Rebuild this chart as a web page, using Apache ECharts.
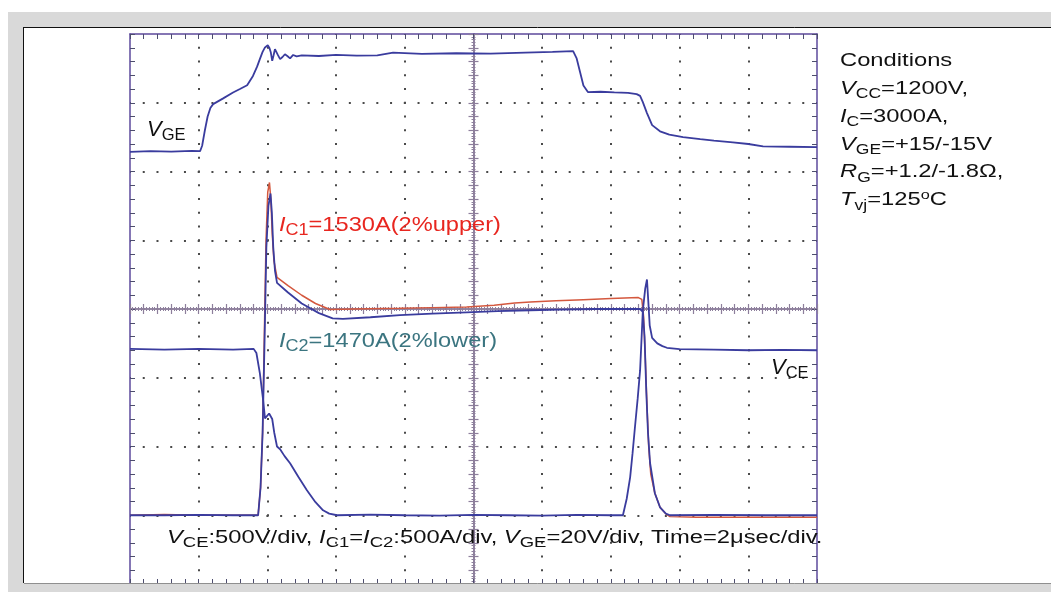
<!DOCTYPE html>
<html><head><meta charset="utf-8">
<script src="https://cdn.jsdelivr.net/npm/echarts@6/dist/echarts.min.js"></script>
<style>html,body{margin:0;padding:0;background:#fff}#c{width:1051px;height:592px}</style>
</head><body><div id="c"></div>
<script>
// ---- data (time in µs) ----
const timeRange = [0, 20];      // 2 µs/div, 10 div
const ampRange = [-500, 3500];  // VCE [V] and IC [A], 500 /div
const vgeRange = [-140, 20];    // VGE [V], 20 V/div

const vgeTrace = [[0,-14.3],[0.6,-14.1],[1.2,-14.2],[1.8,-14.0],[2.04,-14.1],[2.1,-12.5],[2.18,-8.0],[2.26,-4.0],[2.34,-1.5],[2.42,-0.4],[2.7,1.2],[3.0,3.0],[3.2,4.0],[3.41,5.1],[3.58,7.8],[3.7,10.5],[3.78,12.7],[3.86,14.8],[3.93,16.1],[4.01,16.7],[4.06,15.9],[4.1,14.6],[4.14,12.2],[4.18,13.8],[4.22,15.6],[4.3,14.0],[4.37,12.7],[4.44,13.3],[4.51,14.1],[4.58,13.6],[4.66,12.9],[4.75,13.9],[4.85,13.5],[5.0,13.8],[5.5,13.6],[6.0,13.9],[6.6,13.7],[7.2,13.8],[7.66,14.6],[8.5,14.2],[9.5,14.4],[10.5,14.3],[11.5,14.6],[12.3,14.8],[12.9,15.0],[13.0,13.0],[13.1,9.0],[13.2,5.0],[13.33,3.1],[13.7,3.2],[14.1,3.0],[14.5,2.9],[14.75,2.5],[14.85,2.0],[14.93,0.2],[15.05,-3.0],[15.2,-6.5],[15.43,-8.3],[15.7,-9.3],[16.1,-10.0],[16.6,-10.6],[17.0,-11.0],[17.55,-11.5],[18.0,-12.0],[18.43,-12.7],[19.2,-12.8],[20,-12.9]];

const vceTrace = [[0,1210],[1,1205],[2,1210],[3,1205],[3.6,1210],[3.68,1180],[3.78,1033],[3.87,850],[3.93,705],[3.98,700],[4.05,740],[4.09,750],[4.14,700],[4.2,600],[4.28,500],[4.37,480],[4.5,430],[4.66,378],[4.9,280],[5.15,182],[5.4,95],[5.62,36],[5.8,12],[6.03,0],[7,5],[8,0],[9,-3],[10,2],[11,0],[12,-2],[13,3],[14.0,0],[14.35,0],[14.46,120],[14.56,276],[14.63,450],[14.7,640],[14.78,850],[14.85,1055],[14.93,1490],[15.0,1650],[15.05,1715],[15.09,1550],[15.13,1380],[15.2,1290],[15.35,1250],[15.5,1230],[15.63,1218],[16.0,1208],[17,1205],[18,1200],[19,1202],[20,1200]];

const ic1Trace = [[0,0],[1,5],[2,0],[3,0],[3.73,0],[3.8,200],[3.86,600],[3.91,1300],[3.96,2000],[4.01,2350],[4.06,2420],[4.1,2300],[4.14,2050],[4.19,1850],[4.28,1730],[4.6,1670],[5.0,1600],[5.4,1540],[5.82,1496],[6.5,1500],[7.86,1505],[8.8,1510],[9.8,1515],[10.6,1528],[11.2,1544],[11.65,1551],[12.4,1560],[13.2,1568],[14.0,1576],[14.8,1583],[14.9,1570],[14.95,1450],[15.0,1150],[15.05,800],[15.1,500],[15.16,300],[15.28,160],[15.43,58],[15.6,10],[15.72,-10],[16.5,-15],[18,-15],[20,-14]];

const ic2Trace = [[0,0],[1,0],[2,3],[3,0],[3.73,0],[3.8,200],[3.86,600],[3.92,1300],[3.97,1950],[4.03,2250],[4.09,2340],[4.13,2200],[4.17,1950],[4.22,1780],[4.28,1690],[4.6,1620],[5.0,1540],[5.5,1470],[5.9,1432],[6.2,1428],[7.0,1440],[7.86,1455],[8.8,1466],[9.8,1476],[10.7,1485],[11.65,1491],[12.5,1496],[13.5,1500],[14.5,1500],[14.85,1500],[14.93,1480],[14.98,1300],[15.03,900],[15.08,600],[15.14,380],[15.28,160],[15.43,58],[15.6,12],[15.72,0],[17,2],[18.5,0],[20,0]];

const conditionLines = ['Conditions','{i|V}{s|CC}=1200V,','{i|I}{s|C}=3000A,','{i|V}{s|GE}=+15/-15V','{i|R}{s|G}=+1.2/-1.8Ω,','{i|T}{s|vj}=125{o|o}C'];
const footText = '{i|V}{s|CE}:500V/div, {i|I}{s|C1}={i|I}{s|C2}:500A/div, {i|V}{s|GE}=20V/div, Time=2μsec/div.';
const labelVGE = '{i|V}{s|GE}';
const labelVCE = '{i|V}{s|CE}';
const labelIC1 = '{i|I}{s|C1}=1530A(2%upper)';
const labelIC2 = '{i|I}{s|C2}=1470A(2%lower)';

// ---- styling ----
const FONT = '"Liberation Sans", Arial, sans-serif';
const BORDER = '#5d4a9c';
const TICK = '#4d4d6e';
const DOT = '#4a4a4a';
const CENTER = '#8d7f9c';
const BLUE = '#3a3c9e';
const RED = '#d4583e';

function txt(x, baseline, F, S, color, sx, content) {
  const LH = F + 14;
  const d = 4;
  const pd = 2 * (d + 0.3465 * (F - S));
  const S2 = S - 1;
  const pu = 2 * (0.3695 * F - 0.1735 * S2);
  return {
    type: 'text', x: x, y: baseline - 0.3465 * F, scaleX: sx, z: 20,
    style: {
      text: content, x: 0, y: 0, fontSize: F, fontFamily: FONT, fill: color, lineHeight: LH,
      align: 'left', verticalAlign: 'middle', textAlign: 'left', textVerticalAlign: 'middle',
      rich: {
        i: {fontSize: F, fontFamily: FONT, fontStyle: 'italic', fill: color, lineHeight: LH},
        s: {fontSize: S, fontFamily: FONT, fill: color, lineHeight: LH, padding: [pd, 0, 0, 0]},
        o: {fontSize: S2, fontFamily: FONT, fill: color, lineHeight: LH, padding: [0, 0, pu, 0]}
      }
    }
  };
}

function borderX(pos, split) {
  return {type: 'value', min: timeRange[0], max: timeRange[1], interval: 2, position: pos,
    axisLine: {show: true, onZero: false, lineStyle: {color: BORDER, width: 1.5}},
    axisTick: {show: true, inside: true, length: 5, lineStyle: {color: TICK, width: 1}},
    minorTick: {show: true, splitNumber: 5, length: 5, lineStyle: {color: TICK, width: 1}},
    axisLabel: {show: false},
    splitLine: split ? {show: true, showMinLine: false, showMaxLine: false,
      lineStyle: {color: DOT, width: 2, type: [2, 11.75], dashOffset: 1}} : {show: false}};
}
function centerX(pos) {
  return {type: 'value', min: timeRange[0], max: timeRange[1], interval: 0.4, position: pos, offset: -275,
    axisLine: {show: true, onZero: false, lineStyle: {color: CENTER, width: 1.6}},
    axisTick: {show: true, inside: true, length: 5, lineStyle: {color: CENTER, width: 1.2}},
    minorTick: {show: true, splitNumber: 5, length: 2, lineStyle: {color: CENTER, width: 1}},
    axisLabel: {show: false}, splitLine: {show: false}};
}
function borderY(pos, split) {
  return {type: 'value', min: ampRange[0], max: ampRange[1], interval: 500, position: pos,
    axisLine: {show: true, onZero: false, lineStyle: {color: BORDER, width: 1.5}},
    axisTick: {show: true, inside: true, length: 5, lineStyle: {color: TICK, width: 1}},
    minorTick: {show: true, splitNumber: 5, length: 5, lineStyle: {color: TICK, width: 1}},
    axisLabel: {show: false},
    splitLine: split ? {show: true, showMinLine: false, showMaxLine: false,
      lineStyle: {color: DOT, width: 2, type: [2, 11.74], dashOffset: 1}} : {show: false}};
}
function centerY(pos) {
  return {type: 'value', min: ampRange[0], max: ampRange[1], interval: 100, position: pos, offset: -343.5,
    axisLine: {show: true, onZero: false, lineStyle: {color: CENTER, width: 1.6}},
    axisTick: {show: true, inside: true, length: 5, lineStyle: {color: CENTER, width: 1.2}},
    minorTick: {show: true, splitNumber: 5, length: 2, lineStyle: {color: CENTER, width: 1}},
    axisLabel: {show: false}, splitLine: {show: false}};
}

const graphics = [
  {type: 'rect', z: -10, shape: {x: 8, y: 12, width: 1043, height: 580}, style: {fill: '#d9d9d9'}},
  {type: 'rect', z: -9, shape: {x: 24, y: 27, width: 1027, height: 556}, style: {fill: '#ffffff'}},
  {type: 'line', z: -8, shape: {x1: 24, y1: 27.5, x2: 1051, y2: 27.5}, style: {stroke: '#111', lineWidth: 1}},
  {type: 'line', z: -8, shape: {x1: 23.5, y1: 27, x2: 23.5, y2: 583}, style: {stroke: '#111', lineWidth: 1}},
  {type: 'rect', z: 50, shape: {x: 8, y: 583, width: 1043, height: 9}, style: {fill: '#d9d9d9'}},
  {type: 'line', z: 51, shape: {x1: 24, y1: 583.5, x2: 1051, y2: 583.5}, style: {stroke: '#8f8f8f', lineWidth: 1}},
  txt(147, 137.5, 22, 16.5, '#111', 1.0, labelVGE),
  txt(771, 375, 22, 16.5, '#111', 1.0, labelVCE),
  txt(279, 232, 21, 16, '#e8261f', 1.125, labelIC1),
  txt(279, 348, 21, 16, '#3b7580', 1.125, labelIC2),
  txt(167, 544, 18, 14, '#111', 1.32, footText)
];
conditionLines.forEach(function (line, k) {
  graphics.push(txt(840, 67.3 + 27.85 * k, 19, 14, '#111', 1.25, line));
});

const option = {
  backgroundColor: '#ffffff',
  animation: false,
  grid: {left: 130, top: 34, width: 687, height: 550, show: false},
  xAxis: [borderX('bottom', true), borderX('top', false), centerX('bottom'), centerX('top')],
  yAxis: [borderY('left', true), {type: 'value', show: false, min: vgeRange[0], max: vgeRange[1]},
          borderY('right', false), centerY('left'), centerY('right')],
  series: [
    {name: 'IC1', type: 'line', xAxisIndex: 0, yAxisIndex: 0, data: ic1Trace, symbol: 'none',
     lineStyle: {color: RED, width: 1.5}, z: 3},
    {name: 'VCE', type: 'line', xAxisIndex: 0, yAxisIndex: 0, data: vceTrace, symbol: 'none',
     lineStyle: {color: BLUE, width: 1.8}, z: 4},
    {name: 'IC2', type: 'line', xAxisIndex: 0, yAxisIndex: 0, data: ic2Trace, symbol: 'none',
     lineStyle: {color: BLUE, width: 1.8}, z: 4},
    {name: 'VGE', type: 'line', xAxisIndex: 0, yAxisIndex: 1, data: vgeTrace, symbol: 'none',
     lineStyle: {color: BLUE, width: 1.8}, z: 4}
  ],
  graphic: graphics
};
const chart = echarts.init(document.getElementById('c'), null, {renderer: 'canvas', width: 1051, height: 592});
chart.setOption(option);
</script></body></html>
